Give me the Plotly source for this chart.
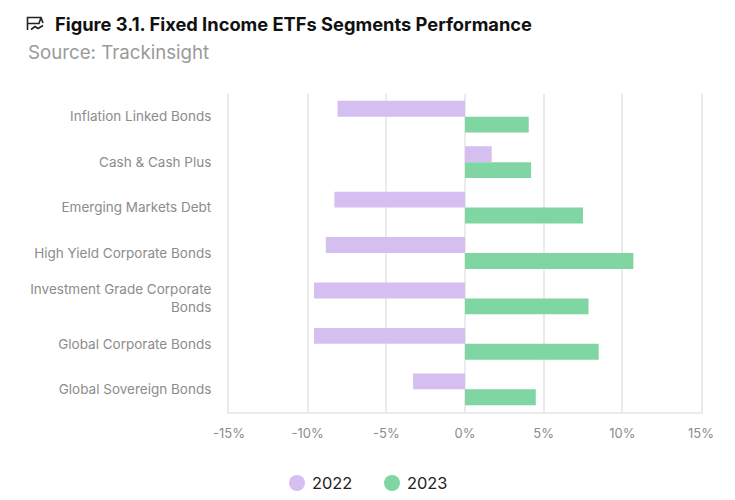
import plotly.graph_objects as go

categories = ["Inflation Linked Bonds", "Cash & Cash Plus", "Emerging Markets Debt",
              "High Yield Corporate Bonds", "Investment Grade Corporate<br>Bonds",
              "Global Corporate Bonds", "Global Sovereign Bonds"]
values_2022 = [-8.1, 1.7, -8.3, -8.85, -9.6, -9.6, -3.3]
values_2023 = [4.05, 4.2, 7.5, 10.7, 7.85, 8.5, 4.5]
tick_vals = [-15, -10, -5, 0, 5, 10, 15]
tick_text = ["-15%", "-10%", "-5%", "0%", "5%", "10%", "15%"]
PURPLE = "#d4bff0"
GREEN = "#7fd6a2"
W, H = 727, 492   # page has an 8px body margin
L, R, T, B = 221, 34, 86, 88

fig = go.Figure()
fig.add_bar(name="2022", y=categories, x=values_2022, orientation="h", marker=dict(color=PURPLE, line_width=0))
fig.add_bar(name="2023", y=categories, x=values_2023, orientation="h", marker=dict(color=GREEN, line_width=0))

# screen pixel -> plot-area paper fraction
def px(x): return (x - 8 - L) / (W - L - R)
def py(y): return 1 - (y - 8 - T) / (H - T - B)

icon = dict(type="path", xref="paper", yref="paper",
            line=dict(color="#222222", width=1.6),
            path=(f"M {px(43)} {py(23)} L {px(41)} {py(17.5)} L {px(27.5)} {py(17.5)} L {px(27.5)} {py(30)} "
                  f"M {px(27.5)} {py(23.5)} L {px(39)} {py(23.5)} L {px(41)} {py(17.5)} "
                  f"M {px(31)} {py(29.5)} L {px(35)} {py(26.5)} L {px(38)} {py(28.5)} L {px(43)} {py(25.5)}"))

def dot(cx, cy, col):
    return dict(type="circle", xref="paper", yref="paper", line_width=0, fillcolor=col,
                x0=px(cx - 8), x1=px(cx + 8), y0=py(cy + 8), y1=py(cy - 8))

def label(text, x, y, size, color):
    return dict(text=text, xref="paper", yref="paper", x=px(x), y=py(y), xanchor="left", yanchor="middle",
                showarrow=False, font=dict(size=size, color=color, family="Inter"))

fig.update_layout(
    width=W, height=H, autosize=False, showlegend=False,
    paper_bgcolor="white", plot_bgcolor="white",
    font=dict(family="Inter", color="#8c8c8c", size=13),
    margin=dict(l=L, r=R, t=T, b=B),
    barmode="group", bargap=0.3, bargroupgap=0,
    shapes=[icon, dot(297, 483, PURPLE), dot(392, 483, GREEN)],
    annotations=[
        label("<b>Figure 3.1. Fixed Income ETFs Segments Performance</b>", 52.5, 24, 18.3, "#111111"),
        label("Source: Trackinsight", 25.5, 52, 18.7, "#9a9a9a"),
        label("2022", 309.5, 483, 16.4, "#222222"),
        label("2023", 404.5, 483, 16.4, "#222222"),
    ],
    xaxis=dict(range=[-15, 15], tickvals=tick_vals, ticktext=tick_text, showgrid=True,
               gridcolor="#ebebeb", gridwidth=2, zeroline=False, showline=True, linecolor="#ebebeb",
               linewidth=2, ticks="", ticklabelstandoff=8, tickfont=dict(size=13, color="#8c8c8c")),
    yaxis=dict(autorange="reversed", showgrid=False, zeroline=False, showline=True, mirror=True,
               linecolor="#ebebeb", linewidth=2,
               ticks="", ticklabelstandoff=13, tickfont=dict(size=13.5, color="#8c8c8c")),
)
fig.write_html("out.html")
